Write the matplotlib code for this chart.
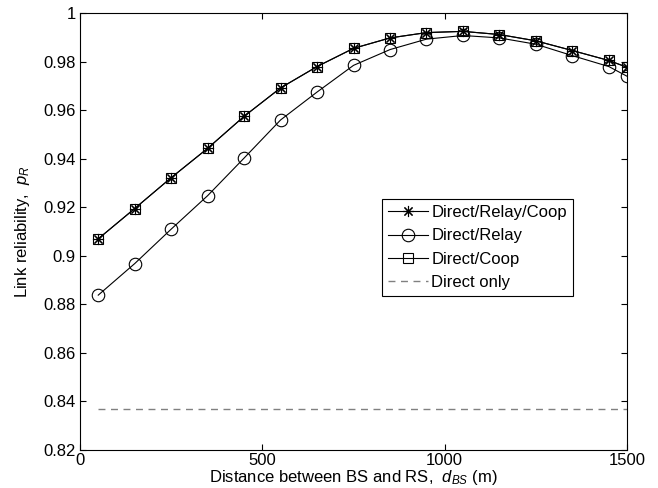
import matplotlib
matplotlib.use('Agg')
import matplotlib.pyplot as plt
import numpy as np

plt.rcParams['font.family'] = ['Liberation Sans', 'DejaVu Sans']
plt.rcParams['mathtext.fontset'] = 'custom'
plt.rcParams['mathtext.it'] = 'Liberation Sans:italic'
plt.rcParams['mathtext.rm'] = 'Liberation Sans'

# Расстояние BS-RS, м
dist = [50, 150, 250, 350, 450, 550, 650, 750, 850, 950, 1050, 1150, 1250, 1350, 1450, 1500]
# Direct/Relay/Coop и Direct/Coop почти совпадают
p_relay_coop = [0.907, 0.9195, 0.9322, 0.9443, 0.9575, 0.9692, 0.978, 0.9855, 0.9898,
                0.992, 0.9925, 0.9912, 0.9886, 0.9846, 0.9805, 0.9777]
p_coop = [0.907, 0.9195, 0.9322, 0.9443, 0.9575, 0.9692, 0.978, 0.9855, 0.9898,
          0.992, 0.9925, 0.9912, 0.9886, 0.9846, 0.9805, 0.9777]
p_relay = [0.8838, 0.8968, 0.911, 0.9248, 0.9403, 0.956, 0.9675, 0.9785, 0.985,
           0.9893, 0.9908, 0.9898, 0.9872, 0.9825, 0.978, 0.974]
p_direct = 0.8367

fig, ax = plt.subplots(figsize=(6.58, 4.88), dpi=100)
fig.subplots_adjust(left=0.1216, right=0.953, top=0.973, bottom=0.078)

ax.plot(dist, p_relay_coop, '-', marker=(8, 2, 0), color='black', lw=0.8, ms=8, mew=0.8,
        label='Direct/Relay/Coop')
ax.plot(dist, p_relay, '-o', color='black', lw=0.8, ms=9, mew=0.8, mfc='none',
        label='Direct/Relay')
ax.plot(dist, p_coop, '-s', color='black', lw=0.8, ms=7, mew=0.8, mfc='none',
        label='Direct/Coop')
ax.plot([dist[0], dist[-1]], [p_direct, p_direct], '--', color='#808080', lw=1.0,
        dashes=(5, 4), label='Direct only')

ax.set_xlim(0, 1500)
ax.set_ylim(0.82, 1.0)
ax.set_xticks([0, 500, 1000, 1500])
ax.set_yticks(np.arange(0.82, 1.001, 0.02))
ax.set_yticklabels(['0.82', '0.84', '0.86', '0.88', '0.9', '0.92', '0.94', '0.96', '0.98', '1'])
ax.tick_params(direction='in', top=True, right=True, labelsize=12, length=4, width=0.8)
ax.tick_params(axis='x', pad=2)
ax.tick_params(axis='y', pad=3)
for s in ax.spines.values():
    s.set_linewidth(0.8)

ax.set_xlabel('Distance between BS and RS,  $d_{BS}$ (m)', fontsize=12, labelpad=0)
ax.set_ylabel('Link reliability,  $p_R$', fontsize=12, labelpad=8)

leg = ax.legend(loc='upper left', bbox_to_anchor=(0.552, 0.574), fontsize=12,
                frameon=True, fancybox=False, edgecolor='black', framealpha=1,
                handlelength=2.4, borderpad=0.35, labelspacing=0.5, handletextpad=0.2,
                borderaxespad=0)
leg.get_frame().set_linewidth(0.8)

plt.savefig('out.png', dpi=100)
